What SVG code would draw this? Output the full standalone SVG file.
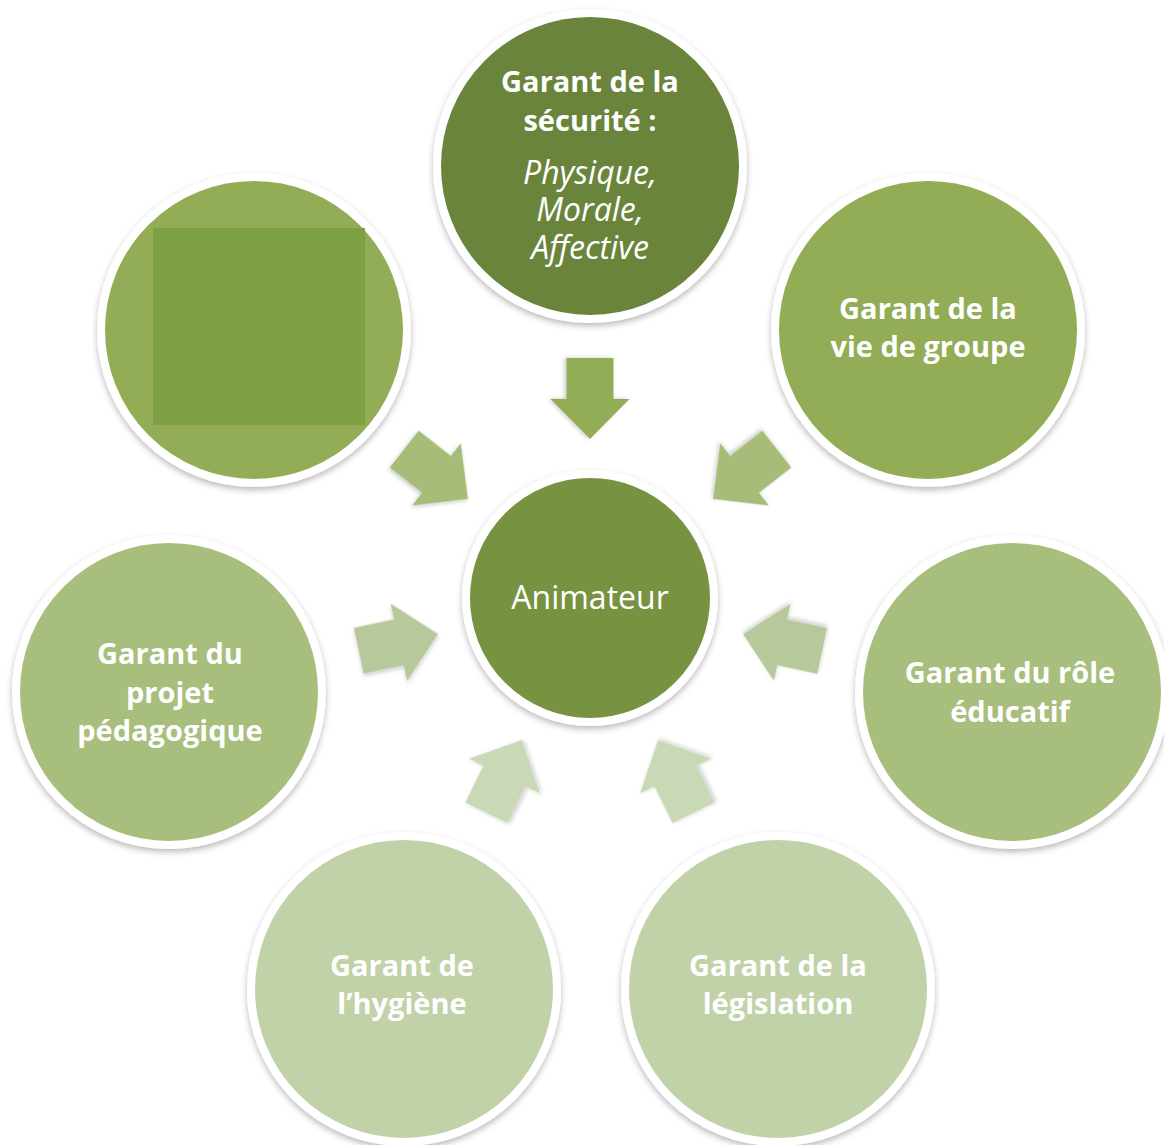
<svg xmlns="http://www.w3.org/2000/svg" width="1164" height="1145" viewBox="0 0 1164 1145">
<defs>
<filter id="sh" x="-20%" y="-20%" width="140%" height="140%">
<feDropShadow dx="0" dy="3" stdDeviation="3" flood-color="#000" flood-opacity="0.28"/>
</filter>
<filter id="ash" x="-30%" y="-30%" width="160%" height="160%">
<feDropShadow dx="0" dy="2" stdDeviation="2" flood-color="#000" flood-opacity="0.22"/>
</filter>
<path id="arr" d="M0,0 L-40,-39.5 L-40,-23.5 L-81,-23.5 L-81,23.5 L-40,23.5 L-40,39.5 Z"/>
</defs>
<style>
.ring{stroke:#fff;stroke-width:8;filter:url(#sh)}
.t{font-family:"Open Sans","Noto Sans",sans-serif;font-weight:bold;font-size:29px;fill:#fff;text-anchor:middle}
.i{font-family:"Open Sans","Noto Sans",sans-serif;font-style:italic;font-size:32px;fill:#fff;text-anchor:middle}
.c{font-family:"Open Sans","Noto Sans",sans-serif;font-size:32px;fill:#fff;text-anchor:middle}
.a{filter:url(#ash)}
</style>
<rect width="1164" height="1145" fill="#fff"/>

<g id="connectors">
<use href="#arr" class="a" fill="#92ad55" transform="translate(590,439) rotate(90)"/>
<use href="#arr" class="a" fill="#a7bc79" transform="translate(468,499) rotate(38)"/>
<use href="#arr" class="a" fill="#a7bc79" transform="translate(713,499) rotate(142)"/>
<use href="#arr" class="a" fill="#b7c99a" transform="translate(438,634) rotate(-12)"/>
<use href="#arr" class="a" fill="#b7c99a" transform="translate(743,634) rotate(192)"/>
<use href="#arr" class="a" fill="#c9d8b5" transform="translate(522,740) rotate(-64)"/>
<use href="#arr" class="a" fill="#c9d8b5" transform="translate(658,740) rotate(-116)"/>
</g>

<g id="node-securite">
<circle class="ring" cx="590" cy="166" r="153" fill="#6b843b"/>
<text class="t" x="590" y="92">Garant de la</text>
<text class="t" x="590" y="131">sécurité :</text>
<text class="i" x="590" y="184">Physique,</text>
<text class="i" x="590" y="221">Morale,</text>
<text class="i" x="590" y="259">Affective</text>
</g>

<g id="node-blank">
<circle class="ring" cx="254" cy="330" r="153" fill="#92ad55"/>
<rect x="153" y="228" width="212" height="197" fill="#7ea045"/>
</g>

<g id="node-vie-groupe">
<circle class="ring" cx="928" cy="330" r="153" fill="#92ad55"/>
<text class="t" x="928" y="319">Garant de la</text>
<text class="t" x="928" y="357">vie de groupe</text>
</g>

<g id="node-animateur">
<circle class="ring" cx="590" cy="598" r="124" fill="#779240"/>
<text class="c" x="590" y="609">Animateur</text>
</g>

<g id="node-projet">
<circle class="ring" cx="169" cy="692" r="153" fill="#a8be7d"/>
<text class="t" x="170" y="664">Garant du</text>
<text class="t" x="170" y="703">projet</text>
<text class="t" x="170" y="741">pédagogique</text>
</g>

<g id="node-educatif">
<circle class="ring" cx="1012" cy="692" r="153" fill="#a8be7d"/>
<text class="t" x="1010" y="683">Garant du rôle</text>
<text class="t" x="1010" y="722">éducatif</text>
</g>

<g id="node-hygiene">
<circle class="ring" cx="404" cy="989" r="153" fill="#c1d2a8"/>
<text class="t" x="402" y="976">Garant de</text>
<text class="t" x="402" y="1014">l’hygiène</text>
</g>

<g id="node-legislation">
<circle class="ring" cx="778" cy="989" r="153" fill="#c1d2a8"/>
<text class="t" x="778" y="976">Garant de la</text>
<text class="t" x="778" y="1014">législation</text>
</g>
</svg>
